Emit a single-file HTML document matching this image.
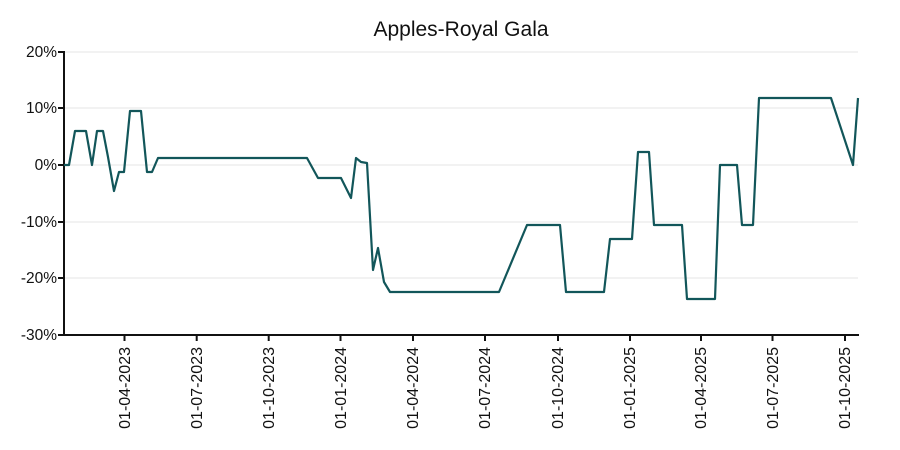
<!DOCTYPE html>
<html><head><meta charset="utf-8"><style>body{margin:0;background:#fff}svg{display:block}</style></head>
<body>
<svg width="900" height="450" xmlns="http://www.w3.org/2000/svg" font-family="Liberation Sans, sans-serif">
<rect width="900" height="450" fill="#fff"/>
<text x="461" y="36" font-size="21" text-anchor="middle" fill="#111">Apples-Royal Gala</text>
<g stroke="#eeeeee" stroke-width="1.5">
<line x1="65" x2="858" y1="52" y2="52"/><line x1="65" x2="858" y1="108" y2="108"/><line x1="65" x2="858" y1="165" y2="165"/><line x1="65" x2="858" y1="222" y2="222"/><line x1="65" x2="858" y1="278" y2="278"/>
</g>
<g stroke="#111" stroke-width="2">
<line x1="64" y1="51" x2="64" y2="336"/><line x1="63" y1="335" x2="859" y2="335"/>
<line x1="58" x2="64" y1="52" y2="52"/><line x1="58" x2="64" y1="108" y2="108"/><line x1="58" x2="64" y1="165" y2="165"/><line x1="58" x2="64" y1="222" y2="222"/><line x1="58" x2="64" y1="278" y2="278"/><line x1="58" x2="64" y1="335" y2="335"/>
<line x1="124.5" x2="124.5" y1="335" y2="341"/><line x1="196.7" x2="196.7" y1="335" y2="341"/><line x1="268.7" x2="268.7" y1="335" y2="341"/><line x1="340.5" x2="340.5" y1="335" y2="341"/><line x1="413" x2="413" y1="335" y2="341"/><line x1="485" x2="485" y1="335" y2="341"/><line x1="558" x2="558" y1="335" y2="341"/><line x1="630" x2="630" y1="335" y2="341"/><line x1="701" x2="701" y1="335" y2="341"/><line x1="772.5" x2="772.5" y1="335" y2="341"/><line x1="845" x2="845" y1="335" y2="341"/>
</g>
<g font-size="15.5" fill="#111" text-anchor="end">
<text x="57" y="57">20%</text><text x="57" y="113">10%</text><text x="57" y="170">0%</text><text x="57" y="227">-10%</text><text x="57" y="283">-20%</text><text x="57" y="340">-30%</text>
</g>
<g font-size="16" fill="#111" text-anchor="end">
<text transform="translate(130,347) rotate(-90)">01-04-2023</text>
<text transform="translate(202,347) rotate(-90)">01-07-2023</text>
<text transform="translate(274,347) rotate(-90)">01-10-2023</text>
<text transform="translate(346,347) rotate(-90)">01-01-2024</text>
<text transform="translate(418,347) rotate(-90)">01-04-2024</text>
<text transform="translate(490,347) rotate(-90)">01-07-2024</text>
<text transform="translate(563,347) rotate(-90)">01-10-2024</text>
<text transform="translate(635,347) rotate(-90)">01-01-2025</text>
<text transform="translate(706,347) rotate(-90)">01-04-2025</text>
<text transform="translate(778,347) rotate(-90)">01-07-2025</text>
<text transform="translate(850,347) rotate(-90)">01-10-2025</text>
</g>
<polyline fill="none" stroke="#12565a" stroke-width="2.2" stroke-linejoin="round" points="64,165 69,165 75,131 86,131 92,165 97,131 103,131 108,157 114,191 119,172 124,172 130,111 141,111 147,172 152,172 158,158 307,158 318,178 341,178 351,198 356,158 361,162 367,163 373,270 378,248 384,282 390,292 499,292 527,225 560,225 566,292 604,292 610,239 632,239 638,152 649,152 654,225 682,225 687,299 715,299 720,165 737,165 742,225 753,225 759,98 831,98 853,165 858,98"/>
</svg>
</body></html>
